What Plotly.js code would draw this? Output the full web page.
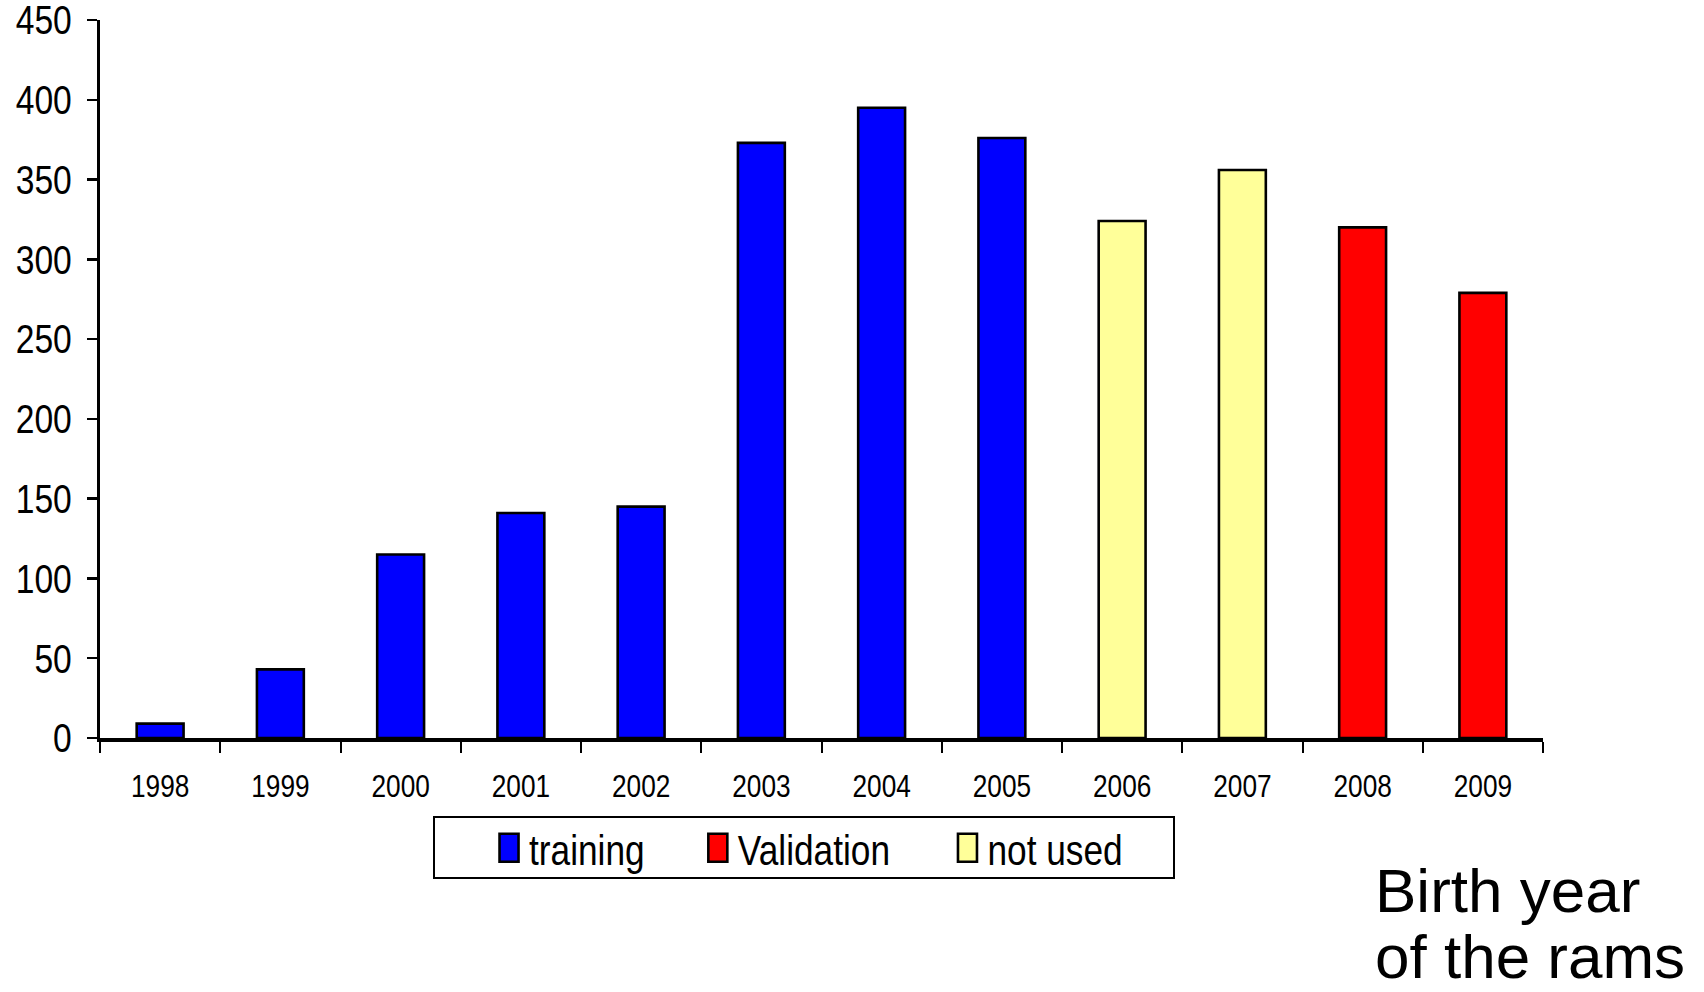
<!DOCTYPE html>
<html>
<head>
<meta charset="utf-8">
<script src="https://cdn.plot.ly/plotly-3.0.1.min.js"></script>
<style>
  html, body { margin: 0; padding: 0; background: #fff; }
  #chart { width: 1704px; height: 992px; }
</style>
</head>
<body>
<div id="chart"></div>
<script>
// Birth years of the rams (category axis)
const years = ['1998', '1999', '2000', '2001', '2002', '2003',
               '2004', '2005', '2006', '2007', '2008', '2009'];

// Number of rams per birth year, split by how each cohort is used
const trainingYears = ['1998', '1999', '2000', '2001', '2002', '2003', '2004', '2005'];
const trainingCounts = [9, 43, 115, 141, 145, 373, 395, 376];

const validationYears = ['2008', '2009'];
const validationCounts = [320, 279];

const notUsedYears = ['2006', '2007'];
const notUsedCounts = [324, 356];

const sans = '"Liberation Sans", Arial, sans-serif';
// Horizontal squeeze giving the axis and legend labels a narrow-face look
const NARROW = 0.82;
const SWATCH = 'M9.5,14H-9.5V-14H9.5Z';

function barTrace(name, x, y, color, legendId) {
  return {
    type: 'bar',
    name: name,
    x: x,
    y: y,
    width: 0.39,
    legend: legendId,
    marker: { color: color, line: { color: '#000', width: 2.6 } },
    hoverinfo: 'x+y+name'
  };
}

const data = [
  barTrace('training', trainingYears, trainingCounts, '#0000FF', 'legend'),
  barTrace('Validation', validationYears, validationCounts, '#FF0000', 'legend2'),
  barTrace('not used', notUsedYears, notUsedCounts, '#FFFF99', 'legend3')
];

const legendBase = {
  orientation: 'h',
  xanchor: 'left',
  yanchor: 'middle',
  y: -0.153,
  bgcolor: 'rgba(0,0,0,0)',
  borderwidth: 0,
  font: { family: sans, size: 43, color: '#000' }
};

const layout = {
  width: 1704,
  height: 992,
  paper_bgcolor: '#fff',
  plot_bgcolor: '#fff',
  margin: { l: 100, r: 161, t: 20, b: 254 },
  barmode: 'overlay',
  showlegend: true,
  legend: Object.assign({}, legendBase, { x: 0.2696 }),
  legend2: Object.assign({}, legendBase, { x: 0.4143 }),
  legend3: Object.assign({}, legendBase, { x: 0.5873 }),
  xaxis: {
    type: 'category',
    categoryorder: 'array',
    categoryarray: years,
    range: [-0.5, 11.5],
    tickson: 'boundaries',
    ticks: 'outside',
    ticklen: 11,
    tickwidth: 2,
    tickcolor: '#000',
    showline: true,
    linecolor: '#000',
    linewidth: 3.5,
    showgrid: false,
    zeroline: false,
    ticklabelstandoff: 17,
    tickfont: { family: sans, size: 32, color: '#000' },
    fixedrange: true
  },
  yaxis: {
    range: [0, 450],
    tick0: 0,
    dtick: 50,
    ticks: 'outside',
    ticklen: 10,
    tickwidth: 2.5,
    tickcolor: '#000',
    showline: true,
    linecolor: '#000',
    linewidth: 3,
    showgrid: false,
    zeroline: false,
    ticklabelstandoff: 7,
    ticklabeloverflow: 'allow',
    tickfont: { family: sans, size: 41, color: '#000' },
    fixedrange: true
  },
  shapes: [
    {
      type: 'rect', xref: 'paper', yref: 'paper',
      x0: (434 - 100) / 1443, x1: (1174 - 100) / 1443,
      y0: (738 - 878) / 718, y1: (738 - 817) / 718,
      line: { color: '#000', width: 2 },
      fillcolor: 'rgba(0,0,0,0)'
    }
  ],
  annotations: [
    {
      text: 'Birth year', xref: 'paper', yref: 'paper',
      x: 0.882, y: -0.212, xanchor: 'left', yanchor: 'middle',
      showarrow: false, font: { family: sans, size: 62, color: '#000' }
    },
    {
      text: 'of the rams', xref: 'paper', yref: 'paper',
      x: 0.882, y: -0.305, xanchor: 'left', yanchor: 'middle',
      showarrow: false, font: { family: sans, size: 62, color: '#000' }
    }
  ]
};

// Squeeze a text node horizontally about its own anchor point (idempotent)
function condense(node, s) {
  const cur = node.getAttribute('transform') || '';
  if (node.__squeezed === cur) return;
  const x = parseFloat(node.getAttribute('x')) || 0;
  const next = cur + ' translate(' + x + ',0) scale(' + s + ',1) translate(' + (-x) + ',0)';
  node.setAttribute('transform', next);
  node.__squeezed = next;
}

// each legend names its text nodes after its own id (legendtext, legend2text, ...)
const LABEL_SELECTOR = '.xtick text, .ytick text, ' +
  'text.legendtext, text.legend2text, text.legend3text';

function restyleText(gd) {
  gd.querySelectorAll(LABEL_SELECTOR).forEach(function (n) {
    condense(n, NARROW);
  });
  // taller, upright legend swatches
  gd.querySelectorAll('.legendpoints path').forEach(function (p) {
    if (p.getAttribute('d') !== SWATCH) p.setAttribute('d', SWATCH);
  });
}

const gdNode = document.getElementById('chart');
// keep the label styling in place whenever the legends or axes are redrawn
new MutationObserver(function () { restyleText(gdNode); })
  .observe(gdNode, { subtree: true, childList: true, attributes: true,
                     attributeFilter: ['transform', 'x', 'y', 'd'] });

Plotly.newPlot(gdNode, data, layout, { displayModeBar: false, staticPlot: true })
  .then(function (gd) { restyleText(gd); });
</script>
</body>
</html>
